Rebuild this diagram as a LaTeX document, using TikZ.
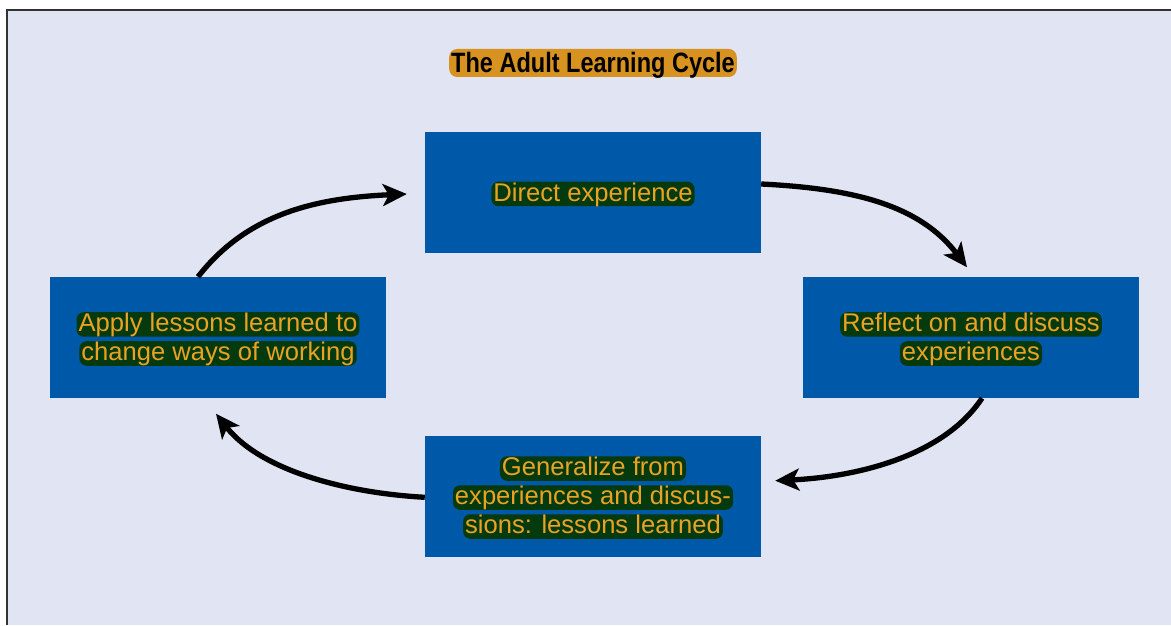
\documentclass[tikz,border=0pt]{standalone}
\usepackage{fontspec}
\setmainfont{Liberation Sans}
\newfontfamily\titlefont[FakeStretch=0.84]{Liberation Sans}
\usetikzlibrary{arrows.meta,calc}
\definecolor{bgL}{RGB}{225,228,243}
\definecolor{boxB}{RGB}{0,89,168}
\definecolor{hlG}{RGB}{4,58,14}
\definecolor{txtO}{RGB}{234,162,36}
\definecolor{ttlO}{RGB}{216,146,32}
\definecolor{frameC}{RGB}{50,50,50}
\tikzset{
  stagebox/.style={fill=boxB, draw=none, minimum width=336pt, minimum height=121pt, inner sep=0pt},
  hl/.style={fill=hlG, text=txtO, rounded corners=7pt, inner xsep=2pt, inner ysep=0pt,
     text height=19.5pt, text depth=5pt, font=\fontsize{25.6}{29}\selectfont},
  ttl/.style={fill=ttlO, text=black, rounded corners=8pt, inner xsep=2pt, inner ysep=0pt,
     text height=24pt, text depth=4pt, font=\titlefont\bfseries\fontsize{28}{32}\selectfont},
  cyc/.style={line width=5.3pt, -{Stealth[length=24pt,width=22pt,inset=6pt]}}
}
\begin{document}
\begin{tikzpicture}[x=1pt,y=1pt]
\useasboundingbox (0,0) rectangle (1171,625);
\fill[white] (0,0) rectangle (1171,625);
\fill[bgL] (7,0) rectangle (1171,615);
\draw[frameC, line width=1.6pt] (7,0) -- (7,615) -- (1171,615);

% title
\node[ttl] (title) at (593,562) {The Adult Learning Cycle};

% boxes
\node[stagebox] (tb) at (593,432.5) {};
\node[stagebox] (rb) at (971,287.5) {};
\node[stagebox] (lb) at (218,287.5) {};
\node[stagebox] (bb) at (593,128.5) {};

% texts
\node[hl] (tb1) at ($(tb)+(0,-1.5)$) {Direct experience};
\node[hl] (rb1) at ($(rb)+(0,13)$) {Reflect on and discuss};
\node[hl] (rb2) at ($(rb)+(0,-16)$) {experiences};
\node[hl] (lb1) at ($(lb)+(0,13)$) {Apply lessons learned to};
\node[hl] (lb2) at ($(lb)+(0,-16)$) {change ways of working};
\node[hl] (bb1) at ($(bb)+(0,28)$) {Generalize from};
\node[hl] (bb2) at ($(bb)+(0,-1)$) {experiences and discus-};
\node[hl] (bb3) at ($(bb)+(0,-30)$) {sions: lessons learned};

% arrows
\draw[cyc] ($(tb.east)+(0,8.5)$) .. controls (851,436.5) and (919,421) .. ($(rb.north)+(-4,9.5)$);
\draw[cyc] ($(rb.south)+(11,0)$) .. controls (943,168) and (855,148) .. ($(bb.east)+(14,15.8)$);
\draw[cyc] ($(bb.west)+(0,-0.8)$) .. controls (345,132) and (260,155) .. ($(lb.south)+(-2,-15.5)$);
\draw[cyc] ($(lb.north)+(-20,0)$) .. controls (247,411) and (315,427) .. ($(tb.west)+(-18,-1.5)$);
\end{tikzpicture}
\end{document}
